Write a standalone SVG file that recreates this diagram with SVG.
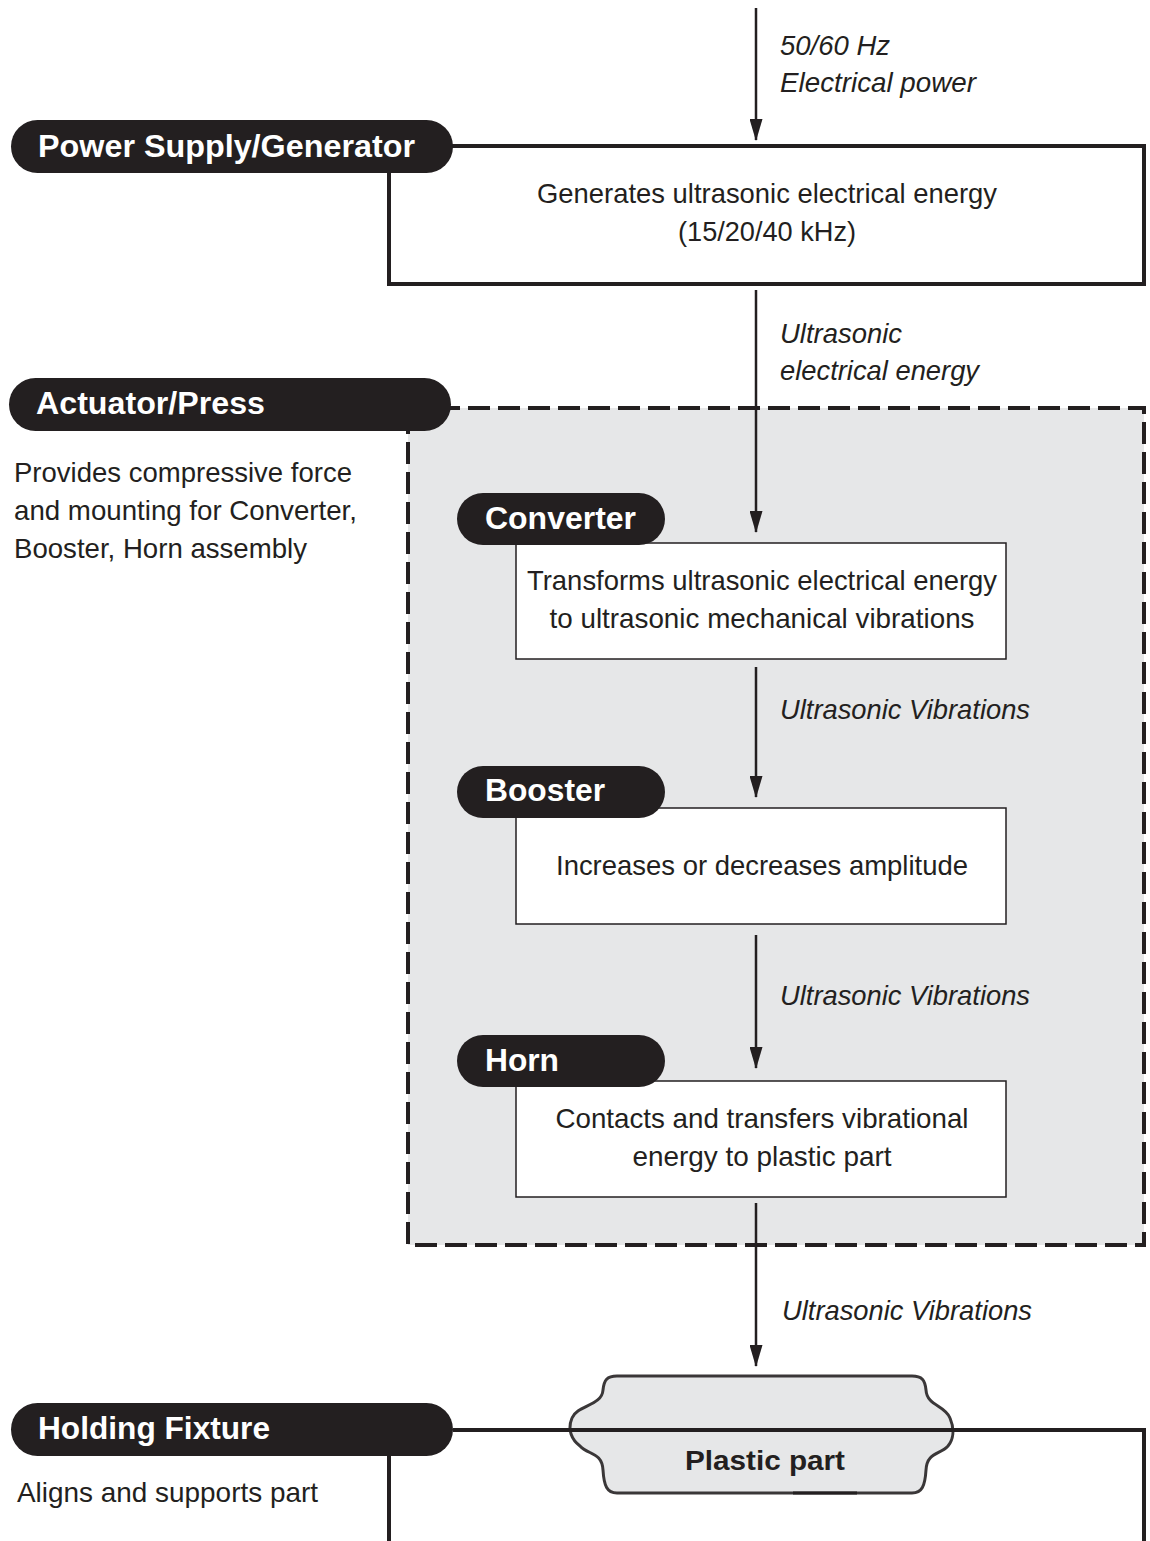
<svg xmlns="http://www.w3.org/2000/svg" width="1150" height="1541" viewBox="0 0 1150 1541">
<style>
.pill{fill:#231f20}
.lbl{font-family:"Liberation Sans",Arial,sans-serif;font-weight:bold;font-size:31px;fill:#fff}
.body{font-family:"Liberation Sans",Arial,sans-serif;font-size:28px;fill:#231f20}
.it{font-family:"Liberation Sans",Arial,sans-serif;font-style:italic;font-size:28px;fill:#231f20}
.box{fill:#fff;stroke:#231f20;stroke-width:1.5}
.edge{stroke:#231f20;stroke-width:2.5;fill:none}
</style>
<defs>
<marker id="ah" markerWidth="22" markerHeight="13" refX="21" refY="6.5" orient="auto" markerUnits="userSpaceOnUse" viewBox="0 0 22 13">
<path d="M0,0 L22,6.5 L0,13 Z" fill="#231f20"/>
</marker>
</defs>
<rect width="1150" height="1541" fill="#fff"/>

<g id="power-supply">
<rect x="389" y="146" width="755" height="138" fill="#fff" stroke="#231f20" stroke-width="4"/>
<rect class="pill" x="11" y="120" width="442" height="53" rx="26.5"/>
<text class="lbl" x="38" y="157" textLength="377" lengthAdjust="spacingAndGlyphs">Power Supply/Generator</text>
<text class="body" x="767" y="203" text-anchor="middle" textLength="460" lengthAdjust="spacingAndGlyphs">Generates ultrasonic electrical energy</text>
<text class="body" x="767" y="241" text-anchor="middle" textLength="178" lengthAdjust="spacingAndGlyphs">(15/20/40 kHz)</text>
</g>

<g id="actuator">
<rect x="408" y="408" width="736" height="837" fill="#e6e7e8" stroke="#231f20" stroke-width="4" stroke-dasharray="22,8"/>
<rect class="pill" x="9" y="378" width="442" height="53" rx="26.5"/>
<text class="lbl" x="36" y="414" textLength="229" lengthAdjust="spacingAndGlyphs">Actuator/Press</text>
<text class="body" x="14" y="482" textLength="338" lengthAdjust="spacingAndGlyphs">Provides compressive force</text>
<text class="body" x="14" y="520" textLength="343" lengthAdjust="spacingAndGlyphs">and mounting for Converter,</text>
<text class="body" x="14" y="558" textLength="293" lengthAdjust="spacingAndGlyphs">Booster, Horn assembly</text>
</g>

<g id="converter">
<rect class="box" x="516" y="543" width="490" height="116"/>
<rect class="pill" x="457" y="493" width="208" height="52" rx="26"/>
<text class="lbl" x="485" y="529" textLength="151" lengthAdjust="spacingAndGlyphs">Converter</text>
<text class="body" x="762" y="590" text-anchor="middle" textLength="470" lengthAdjust="spacingAndGlyphs">Transforms ultrasonic electrical energy</text>
<text class="body" x="762" y="628" text-anchor="middle" textLength="425" lengthAdjust="spacingAndGlyphs">to ultrasonic mechanical vibrations</text>
</g>

<g id="booster">
<rect class="box" x="516" y="808" width="490" height="116"/>
<rect class="pill" x="457" y="766" width="208" height="52" rx="26"/>
<text class="lbl" x="485" y="801" textLength="120" lengthAdjust="spacingAndGlyphs">Booster</text>
<text class="body" x="762" y="875" text-anchor="middle" textLength="412" lengthAdjust="spacingAndGlyphs">Increases or decreases amplitude</text>
</g>

<g id="horn">
<rect class="box" x="516" y="1081" width="490" height="116"/>
<rect class="pill" x="457" y="1035" width="208" height="52" rx="26"/>
<text class="lbl" x="485" y="1071" textLength="74" lengthAdjust="spacingAndGlyphs">Horn</text>
<text class="body" x="762" y="1128" text-anchor="middle" textLength="413" lengthAdjust="spacingAndGlyphs">Contacts and transfers vibrational</text>
<text class="body" x="762" y="1166" text-anchor="middle" textLength="259" lengthAdjust="spacingAndGlyphs">energy to plastic part</text>
</g>

<g id="plastic-part">
<path d="M617,1376 H912 C922,1376 925,1380 926,1390 C927,1406 945,1405 950,1418 C955,1430 953,1440 948,1446 C940,1455 927,1452 926,1470 C925,1486 922,1493 912,1493 H617 C607,1493 604,1486 603,1470 C602,1452 588,1455 580,1446 C572,1440 567,1430 572,1418 C577,1405 602,1406 603,1390 C604,1380 607,1376 617,1376 Z" fill="#e6e7e8" stroke="#3a3738" stroke-width="3"/>
<line x1="793" y1="1493" x2="857" y2="1493" stroke="#231f20" stroke-width="3"/>
<text x="765" y="1470" text-anchor="middle" font-family="Liberation Sans, Arial, sans-serif" font-weight="bold" font-size="27" fill="#231f20" textLength="160" lengthAdjust="spacingAndGlyphs">Plastic part</text>
</g>

<g id="holding-fixture">
<path d="M453,1430 H1144 V1541 M389,1455 V1541" fill="none" stroke="#231f20" stroke-width="4"/>
<rect class="pill" x="11" y="1403" width="442" height="53" rx="26.5"/>
<text class="lbl" x="38" y="1439" textLength="232" lengthAdjust="spacingAndGlyphs">Holding Fixture</text>
<text class="body" x="17" y="1502" textLength="301" lengthAdjust="spacingAndGlyphs">Aligns and supports part</text>
</g>

<g id="connectors">
<line class="edge" x1="756" y1="8" x2="756" y2="140" marker-end="url(#ah)"/>
<line class="edge" x1="756" y1="290" x2="756" y2="532" marker-end="url(#ah)"/>
<line class="edge" x1="756" y1="667" x2="756" y2="797" marker-end="url(#ah)"/>
<line class="edge" x1="756" y1="935" x2="756" y2="1068" marker-end="url(#ah)"/>
<line class="edge" x1="756" y1="1203" x2="756" y2="1366" marker-end="url(#ah)"/>
<text class="it" x="780" y="55" textLength="110" lengthAdjust="spacingAndGlyphs">50/60 Hz</text>
<text class="it" x="780" y="92" textLength="196" lengthAdjust="spacingAndGlyphs">Electrical power</text>
<text class="it" x="780" y="343" textLength="122" lengthAdjust="spacingAndGlyphs">Ultrasonic</text>
<text class="it" x="780" y="380" textLength="199" lengthAdjust="spacingAndGlyphs">electrical energy</text>
<text class="it" x="780" y="719" textLength="250" lengthAdjust="spacingAndGlyphs">Ultrasonic Vibrations</text>
<text class="it" x="780" y="1005" textLength="250" lengthAdjust="spacingAndGlyphs">Ultrasonic Vibrations</text>
<text class="it" x="782" y="1320" textLength="250" lengthAdjust="spacingAndGlyphs">Ultrasonic Vibrations</text>
</g>
</svg>
